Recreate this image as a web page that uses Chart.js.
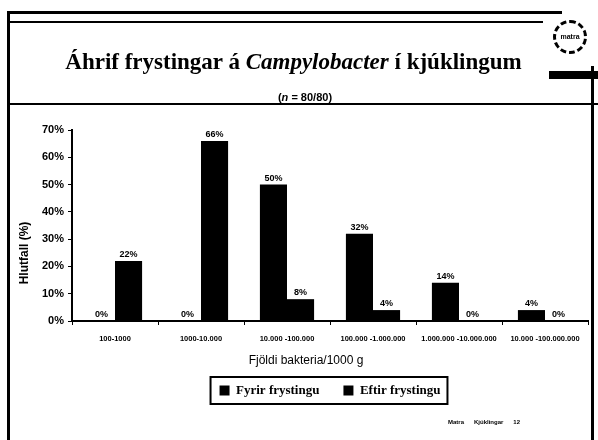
<!DOCTYPE html>
<html>
<head>
<meta charset="utf-8">
<script src="https://cdn.jsdelivr.net/npm/chart.js@4.4.0/dist/chart.umd.min.js"></script>
<style>
    body { margin: 0; background: #fff; }
    #page { position: relative; width: 598px; height: 440px; overflow: hidden; background: #fff; }
    #grafico { position: absolute; left: 0; top: 0; }
    .lina { position: absolute; background: #000; }
    #titill { position: absolute; left: 0; top: 49px; width: 587px; text-align: center;
        font: bold 23px "Liberation Serif", "Times New Roman", serif; line-height: 26px; color: #000; }
    #undirtitill { position: absolute; left: 0; top: 90px; width: 610px; text-align: center;
        font: bold 11px "Liberation Sans", Arial, sans-serif; line-height: 14px; color: #000; }
    #merki { position: absolute; left: 553px; top: 20px; width: 28px; height: 28px; border: 3px dashed #000;
        border-radius: 50%; font: bold 7px "Liberation Sans", Arial, sans-serif; line-height: 28px; text-align: center; }
    #sida { position: absolute; left: 448px; top: 419px; font: bold 6px "Liberation Sans", Arial, sans-serif; color: #000; }
</style>
</head>
<body>
<div id="page">
    <canvas id="grafico" width="598" height="440"></canvas>
    <div class="lina" style="left:7px; top:11px; width:555px; height:3px;"></div>
    <div class="lina" style="left:7px; top:21px; width:536px; height:2px;"></div>
    <div class="lina" style="left:7px; top:103px; width:591px; height:2px;"></div>
    <div class="lina" style="left:7px; top:11px; width:3px; height:429px;"></div>
    <div class="lina" style="left:591px; top:66px; width:3px; height:374px;"></div>
    <div class="lina" style="left:549px; top:71px; width:49px; height:8px;"></div>
    <div id="titill">Áhrif frystingar á <i>Campylobacter</i> í kjúklingum</div>
    <div id="undirtitill">(<i>n</i> = 80/80)</div>
    <div id="merki">matra</div>
    <div id="sida">Matra &nbsp;&nbsp;&nbsp;&nbsp; Kjúklingar &nbsp;&nbsp;&nbsp;&nbsp; 12</div>
</div>
<script>
document.addEventListener('DOMContentLoaded', function () {

    const flokkar = ['100-1000', '1000-10.000', '10.000 -100.000', '100.000 -1.000.000',
        '1.000.000 -10.000.000', '10.000 -100.000.000'];

    const fyrirFrystingu = [0, 0, 50, 32, 14, 4];

    const eftirFrystingu = [22, 66, 8, 4, 0, 0];

    const asY = [0, 10, 20, 30, 40, 50, 60, 70];

    const sans = '"Liberation Sans", Arial, sans-serif';

    const serif = '"Liberation Serif", "Times New Roman", serif';

    // gildi ofan a sulunum
    const gildiPlugin = {
        id: 'gildi',
        afterDatasetsDraw(chart) {
            const ctx = chart.ctx;
            ctx.save();
            ctx.font = 'bold 9px ' + sans;
            ctx.fillStyle = '#000';
            ctx.textAlign = 'center';
            ctx.textBaseline = 'bottom';
            chart.data.datasets.forEach(function (ds, i) {
                chart.getDatasetMeta(i).data.forEach(function (bar, j) {
                    ctx.fillText(ds.data[j] + '%', bar.x, bar.y - 2);
                });
            });
            ctx.restore();
        }
    };

    // asaheiti og rammi um skyringar
    const rammiPlugin = {
        id: 'rammi',
        afterDraw(chart) {
            const ctx = chart.ctx;
            const a = chart.chartArea;
            ctx.save();
            ctx.fillStyle = '#000';
            ctx.textAlign = 'center';
            ctx.textBaseline = 'middle';
            ctx.font = '12px ' + sans;
            ctx.fillText('Fjöldi bakteria/1000 g', a.left + 234, a.bottom + 40);
            ctx.translate(a.left - 47, a.bottom - 68);
            ctx.rotate(-Math.PI / 2);
            ctx.font = 'bold 12px ' + sans;
            ctx.fillText('Hlutfall (%)', 0, 0);
            ctx.restore();

            const boxes = chart.legend.legendHitBoxes;
            if (!boxes || !boxes.length) return;
            const fyrsta = boxes[0];
            const sidasta = boxes[boxes.length - 1];
            ctx.save();
            ctx.strokeStyle = '#000';
            ctx.lineWidth = 2;
            ctx.strokeRect(fyrsta.left - 9, fyrsta.top - 7,
                sidasta.left + sidasta.width - fyrsta.left + 16, fyrsta.height + 14);
            ctx.restore();
        }
    };

    const ctx = document.getElementById('grafico').getContext('2d');

    new Chart(ctx, {
        type: 'bar',
        data: {
            labels: flokkar,
            datasets: [{
                label: 'Fyrir frystingu',
                data: fyrirFrystingu,
                backgroundColor: '#000',
                borderWidth: 0,
                categoryPercentage: 0.63,
                barPercentage: 1
            }, {
                label: 'Eftir frystingu',
                data: eftirFrystingu,
                backgroundColor: '#000',
                borderWidth: 0,
                categoryPercentage: 0.63,
                barPercentage: 1
            }]
        },
        options: {
            responsive: false,
            animation: false,
            layout: { padding: { top: 130, left: 0, right: 10, bottom: 33 } },
            scales: {
                x: {
                    afterFit: function (scale) { scale.height = 39; },
                    border: { display: true, color: '#000', width: 2 },
                    grid: { display: true, drawOnChartArea: false, drawTicks: true, tickLength: 4, tickColor: '#000', offset: true },
                    ticks: {
                        color: '#000',
                        font: { family: sans, size: 7.5, weight: 'bold' },
                        maxRotation: 0,
                        autoSkip: false,
                        padding: 9
                    }
                },
                y: {
                    min: 0,
                    max: 70,
                    afterFit: function (scale) { scale.width = 72; },
                    afterBuildTicks: function (scale) { scale.ticks = asY.map(v => ({ value: v })); },
                    border: { display: true, color: '#000', width: 2 },
                    grid: { display: true, drawOnChartArea: false, drawTicks: true, tickLength: 4, tickColor: '#000' },
                    ticks: {
                        color: '#000',
                        font: { family: sans, size: 11, weight: 'bold' },
                        padding: 4,
                        callback: function (v) { return v + '%'; }
                    }
                }
            },
            plugins: {
                legend: {
                    position: 'bottom',
                    fullSize: false,
                    labels: {
                        color: '#000',
                        font: { family: serif, size: 13, weight: 'bold' },
                        boxWidth: 10,
                        boxHeight: 10,
                        padding: 24
                    }
                },
                tooltip: { enabled: false }
            }
        },
        plugins: [gildiPlugin, rammiPlugin]
    });

})
</script>
</body>
</html>
